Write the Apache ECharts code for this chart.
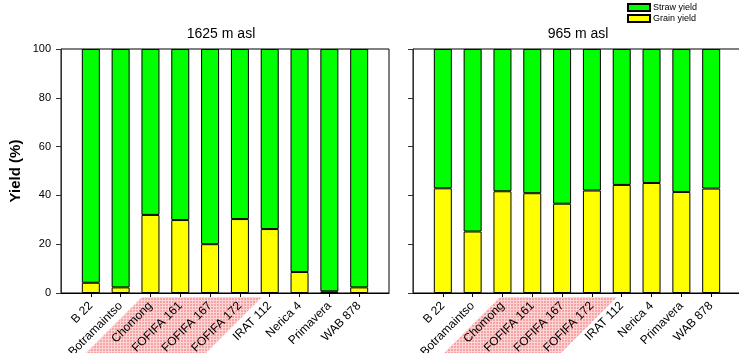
<!DOCTYPE html>
<html><head><meta charset="utf-8">
<script src="https://cdn.jsdelivr.net/npm/echarts@6/dist/echarts.min.js"></script>
<style>html,body{margin:0;padding:0;background:#fff}#c{width:739px;height:353px}</style>
</head><body><div id="c"></div>
<script>
const categories = ['B 22','Botramaintso','Chomong','FOFIFA 161','FOFIFA 167','FOFIFA 172','IRAT 112','Nerica 4','Primavera','WAB 878'];
const panelTitles = ['1625 m asl','965 m asl'];
const grainHigh = [4.2, 2.3, 32.0, 29.9, 20.0, 30.3, 26.2, 8.6, 0.7, 2.3];
const strawHigh = [95.8, 97.7, 68.0, 70.1, 80.0, 69.7, 73.8, 91.4, 99.3, 97.7];
const grainLow = [42.9, 25.2, 41.7, 40.9, 36.6, 42.0, 44.3, 45.1, 41.4, 42.8];
const strawLow = [57.1, 74.8, 58.3, 59.1, 63.4, 58.0, 55.7, 54.9, 58.6, 57.2];
const yTicks = {min: 0, max: 100, interval: 20};

const padCats = [''].concat(categories, ['']);
const pad = arr => [null].concat(arr, [null]);
const FONT = 'Liberation Sans, Arial, sans-serif';

// pink checker pattern
const pc = document.createElement('canvas');
pc.width = 3; pc.height = 3;
const px = pc.getContext('2d');
px.fillStyle = '#f7a3a3'; px.fillRect(0,0,3,3);
px.fillStyle = '#fcd6d6'; px.fillRect(0,0,3,1); px.fillRect(0,0,1,3);

const grids = [
  {left: 61, top: 49, width: 328, height: 244, outerBoundsMode: 'none', containLabel: false, show: true, borderColor: '#000', borderWidth: 1, backgroundColor: 'transparent'},
  {left: 413, top: 49, width: 328, height: 244, outerBoundsMode: 'none', containLabel: false, show: true, borderColor: '#000', borderWidth: 1, backgroundColor: 'transparent'}
];
const titleCenters = [221, 578];
const xAxes = [0,1].map(i => ({
  type: 'category', gridIndex: i, data: padCats, boundaryGap: false,
  axisLine: {lineStyle: {color: '#000', width: 1}},
  axisTick: {interval: (idx) => idx > 0 && idx < padCats.length - 1, length: 4, lineStyle: {color: '#000'}},
  axisLabel: {interval: 0, rotate: 45, margin: 11, padding: 0, color: '#000', fontSize: 12, fontFamily: FONT, hideOverlap: false},
  splitLine: {show: false}
}));
const yAxes = [0,1].map(i => ({
  type: 'value', gridIndex: i, min: yTicks.min, max: yTicks.max, interval: yTicks.interval,
  name: i === 0 ? 'Yield (%)' : '', nameLocation: 'middle', nameGap: 38,
  nameTextStyle: {fontSize: 15, fontWeight: 'bold', color: '#000', fontFamily: FONT},
  axisLine: {show: true, lineStyle: {color: '#333', width: 1}},
  axisTick: {show: true, length: 5, lineStyle: {color: '#333'}},
  axisLabel: {show: i === 0, color: '#000', fontSize: 11, fontFamily: FONT, margin: 10},
  splitLine: {show: false}
}));
const barStyle = c => ({color: c, borderColor: '#000', borderWidth: 1});
const series = [];
[[grainHigh, strawHigh],[grainLow, strawLow]].forEach((pair, i) => {
  series.push({name: 'Grain yield', type: 'bar', stack: 's' + i, xAxisIndex: i, yAxisIndex: i, barWidth: 18, data: pad(pair[0]), itemStyle: barStyle('#ffff00')});
  series.push({name: 'Straw yield', type: 'bar', stack: 's' + i, xAxisIndex: i, yAxisIndex: i, barWidth: 18, data: pad(pair[1]), itemStyle: barStyle('#00ff00')});
});

const chart = echarts.init(document.getElementById('c'), null, {renderer: 'canvas'});
chart.setOption({
  animation: false,
  legend: {
    data: ['Straw yield', 'Grain yield'], orient: 'vertical', left: 627, top: 3, padding: 0,
    itemWidth: 22, itemHeight: 7, itemGap: 2, icon: 'rect',
    textStyle: {fontSize: 9, lineHeight: 8, color: '#000', fontFamily: FONT, padding: [0,0,0,-2]}
  },
  grid: grids, xAxis: xAxes, yAxis: yAxes, series: series,
  graphic: [
    {type: 'polygon', z: -10, silent: true, shape: {points: [[142,297],[262,297],[206,353],[86,353]]}, style: {fill: {image: pc, repeat: 'repeat'}}},
    {type: 'polygon', z: -10, silent: true, shape: {points: [[500,297],[617,297],[561,353],[444,353]]}, style: {fill: {image: pc, repeat: 'repeat'}}}
  ].concat(panelTitles.map((t, i) => ({
    type: 'text', x: titleCenters[i], y: 27, silent: true,
    style: {text: t, textAlign: 'center', textVerticalAlign: 'top', fill: '#000', font: '14px ' + FONT}
  })))
});
</script></body></html>
